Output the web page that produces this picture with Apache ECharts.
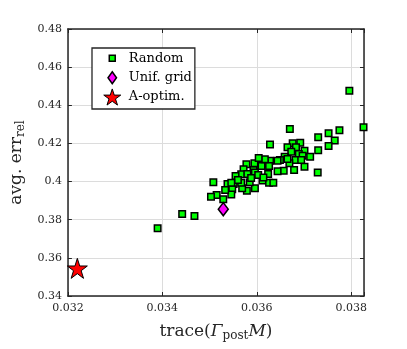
<!DOCTYPE html>
<html>
<head>
<meta charset="utf-8">
<script src="https://cdn.jsdelivr.net/npm/echarts@6/dist/echarts.min.js"></script>
<style>
html,body{margin:0;padding:0;background:#fff;}
#tu1{width:407px;height:349px;}
</style>
</head>
<body>
<div id="tu1"></div>
<script>
// Random 设计点
var randX = [0.03796,0.03826,0.03670,0.03775,0.03752,0.03730,0.03765,0.03628,0.03752,0.03730,
             0.03692,0.03676,0.03665,0.03683,0.03673,0.03701,0.03689,0.03713,0.03697,0.03659,
             0.03649,0.03682,0.03669,0.03628,0.03644,0.03617,0.03626,0.03701,0.03729,0.03679,
             0.03657,0.03644,0.03624,0.03596,0.03578,0.03593,0.03572,0.03567,0.03580,0.03596,
             0.03610,0.03612,0.03626,0.03635,0.03596,0.03579,0.03569,0.03585,0.03567,0.03555,
             0.03551,0.03538,0.03548,0.03546,0.03508,0.03515,0.03503,0.03529,0.03617,0.03442,
             0.03468,0.03390,0.03595,0.03603,0.03614,0.03560,0.03694,0.03665,0.03604,0.03588,
             0.03533,0.03546];
var randY = [0.4476,0.4285,0.4276,0.4269,0.4253,0.4232,0.4216,0.4195,0.4187,0.4164,
             0.4204,0.4201,0.4180,0.4180,0.4157,0.4162,0.4145,0.4130,0.4136,0.4130,
             0.4113,0.4113,0.4096,0.4109,0.4109,0.4096,0.4082,0.4078,0.4047,0.4061,
             0.4057,0.4054,0.4040,0.4082,0.4091,0.4061,0.4064,0.4038,0.4040,0.4047,
             0.4082,0.4005,0.3994,0.3994,0.3965,0.3952,0.3965,0.3996,0.3994,0.4029,
             0.3987,0.3987,0.3960,0.3932,0.3996,0.3930,0.3921,0.3907,0.4117,0.3830,
             0.3820,0.3755,0.4096,0.4034,0.4022,0.4008,0.4113,0.4118,0.4124,0.4019,
             0.3956,0.3994];
// Unif. grid
var gridX = [0.03529];
var gridY = [0.3855];
// A-optim.
var optX = [0.0322];
var optY = [0.3545];

var seriesNames = ['Random', 'Unif. grid', 'A-optim.'];
var xTicks = [0.032, 0.034, 0.036, 0.038];

function pairs(xs, ys){
    var out = [];
    for(var i=0;i<xs.length;i++){
        out.push([xs[i], ys[i]]);
    }
    return out;
}

// 五角星 (pentagram) 路径
function starPath(cx, cy, r, box){
    var s = 'path://';
    if(box){
        s += 'M0,0M20,20';
    }
    for(var k=0;k<10;k++){
        var rr = (k%2===0) ? r : r*0.382;
        var a = -Math.PI/2 + k*Math.PI/5;
        s += (k===0 ? 'M' : 'L') + (cx+rr*Math.cos(a)).toFixed(2) + ',' + (cy+rr*Math.sin(a)).toFixed(2);
    }
    return s + 'Z';
}

var serif = 'DejaVu Serif';
var axisColor = '#262626';

function ChartInit(){
    var myChart = echarts.init(document.getElementById('tu1'));
    var nameRich = {
        m: {fontFamily: serif, fontSize: 17, lineHeight: 20, color: '#262626'},
        i: {fontFamily: serif, fontSize: 17, lineHeight: 20, fontStyle: 'italic', color: '#262626'},
        s: {fontFamily: serif, fontSize: 12, lineHeight: 9, verticalAlign: 'bottom', color: '#262626'}
    };
    var boxAxis = {
        axisLine: {show: true, lineStyle: {color: axisColor, width: 1.5}},
        axisTick: {show: true, inside: true, length: 4, lineStyle: {color: axisColor, width: 1}},
        axisLabel: {show: false},
        splitLine: {show: false}
    };
    var option = {
        backgroundColor: '#fff',
        animation: false,
        grid: {left: 63, right: 43, top: 29, bottom: 53},
        legend: {
            orient: 'vertical',
            left: 92,
            top: 48,
            itemWidth: 17,
            itemHeight: 17,
            itemGap: 1,
            padding: [1, 3, 3, 11],
            borderColor: axisColor,
            borderWidth: 1.3,
            backgroundColor: '#fff',
            textStyle: {fontFamily: serif, fontSize: 13, lineHeight: 17, color: '#000', padding: [0, 0, 0, 3]},
            data: [
                {name: seriesNames[0], icon: 'path://M0,0M20,20M6.5,6.5h7v7h-7z', itemStyle: {borderWidth: 1.5}},
                {name: seriesNames[1], icon: 'path://M0,0M20,20M10,3L15,10L10,17L5,10Z', itemStyle: {borderWidth: 1.5}},
                {name: seriesNames[2], icon: starPath(10, 11, 10.5, true), itemStyle: {borderWidth: 1}}
            ]
        },
        xAxis: [
            {
                type: 'value',
                position: 'bottom',
                min: 0.032,
                max: 0.03827,
                interval: 0.002,
                name: '{m|trace(}{i|Γ}{s|post}{i|M}{m|)}',
                nameLocation: 'middle',
                nameGap: 26,
                nameTextStyle: {rich: nameRich},
                axisLine: {show: true, lineStyle: {color: axisColor, width: 1.5}},
                axisTick: {show: true, inside: true, length: 4, lineStyle: {color: axisColor, width: 1}},
                axisLabel: {
                    margin: 7,
                    fontFamily: serif,
                    fontSize: 11,
                    color: '#262626',
                    formatter: function(v){
                        for(var i=0;i<xTicks.length;i++){
                            if(Math.abs(v - xTicks[i]) < 1e-7) return xTicks[i].toFixed(3);
                        }
                        return '';
                    }
                },
                splitLine: {show: true, lineStyle: {color: '#dcdcdc', width: 1}}
            },
            Object.assign({type: 'value', position: 'top', min: 0.032, max: 0.03827, interval: 0.002}, boxAxis)
        ],
        yAxis: [
            {
                type: 'value',
                position: 'left',
                min: 0.34,
                max: 0.48,
                interval: 0.02,
                name: '{m|avg. err}{s|rel}',
                nameLocation: 'middle',
                nameRotate: 90,
                nameGap: 33,
                nameTextStyle: {rich: nameRich},
                axisLine: {show: true, lineStyle: {color: axisColor, width: 1.5}},
                axisTick: {show: true, inside: true, length: 4, lineStyle: {color: axisColor, width: 1}},
                axisLabel: {margin: 6, fontFamily: serif, fontSize: 11, color: '#262626'},
                splitLine: {show: true, lineStyle: {color: '#dcdcdc', width: 1}}
            },
            Object.assign({type: 'value', position: 'right', min: 0.34, max: 0.48, interval: 0.02}, boxAxis)
        ],
        series: [
            {
                name: seriesNames[0],
                type: 'scatter',
                clip: false,
                symbol: 'rect',
                symbolSize: 6.5,
                itemStyle: {color: '#00ff00', borderColor: '#000', borderWidth: 1.5, opacity: 1},
                data: pairs(randX, randY)
            },
            {
                name: seriesNames[1],
                type: 'scatter',
                clip: false,
                symbol: 'diamond',
                symbolSize: [10, 13],
                itemStyle: {color: '#ff00ff', borderColor: '#000', borderWidth: 1.5, opacity: 1},
                data: pairs(gridX, gridY)
            },
            {
                name: seriesNames[2],
                type: 'scatter',
                clip: false,
                symbol: starPath(10, 10, 10, false),
                symbolSize: 20,
                itemStyle: {color: '#ff0000', borderColor: '#000', borderWidth: 1, opacity: 1},
                data: pairs(optX, optY)
            }
        ]
    };
    myChart.setOption(option);
}

ChartInit();
</script>
</body>
</html>
